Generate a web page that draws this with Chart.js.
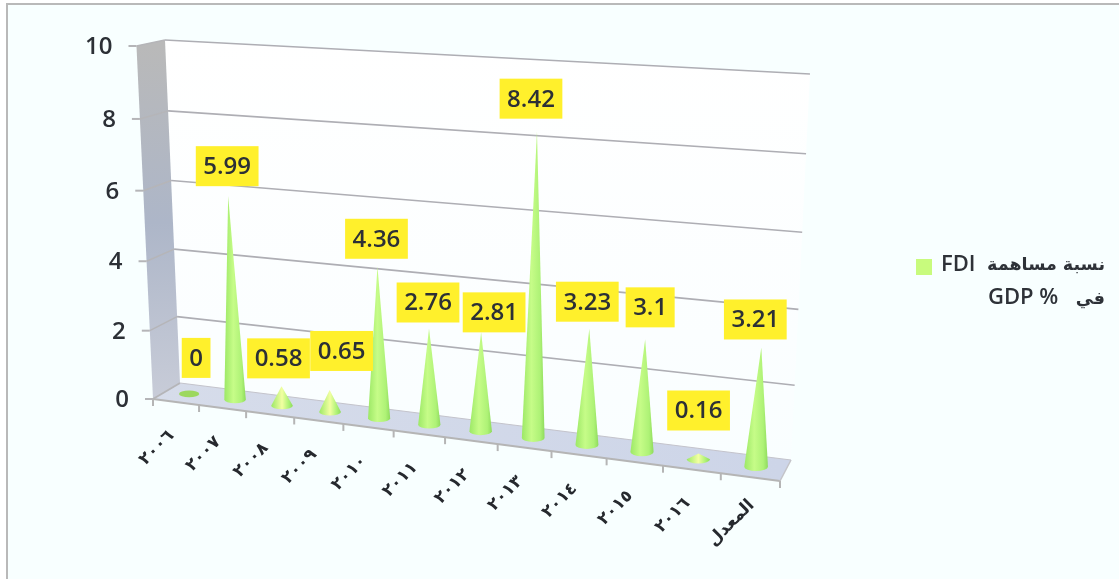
<!DOCTYPE html>
<html><head><meta charset="utf-8">
<style>
html,body{margin:0;padding:0;background:#fff;width:1119px;height:579px;overflow:hidden}
#frame{position:absolute;left:6px;top:3px;width:1113px;height:576px;box-sizing:border-box;background:#f8ffff;border-left:2px solid #b9b9b9;border-top:2px solid #b9b9b9}
#wrap{position:absolute;left:0;top:0;width:1119px;height:579px}
</style>
<script src="https://cdn.jsdelivr.net/npm/chart.js@4"></script>
</head><body>
<div id="frame"></div>
<div id="wrap"><canvas id="c" width="1119" height="579"></canvas></div>
<script>
const categories = ["٢٠٠٦","٢٠٠٧","٢٠٠٨","٢٠٠٩","٢٠١٠","٢٠١١","٢٠١٢","٢٠١٣","٢٠١٤","٢٠١٥","٢٠١٦","المعدل"];
const fdiValues = [0, 5.99, 0.58, 0.65, 4.36, 2.76, 2.81, 8.42, 3.23, 3.1, 0.16, 3.21];
const yTickValues = [0, 2, 4, 6, 8, 10];
const legendArabic = ["نسبة مساهمة", "في"];
const legendLatin = ["FDI", "GDP %"];
const seriesName = "نسبة مساهمة FDI في % GDP";

// Perspective of the 3-D box: floor corners, wall heights and lean
const FL=[153,399], FR=[780,481], BL=[180,383], BR=[791,460];
const lerp=(a,b,t)=>a+(b-a)*t;
const warpX=s=>s*(1-0.128)/(1-0.128*s);
const warpY=v=>(v/(1-0.004*v))*(1-0.04)/10;
function project(s,d,v){
  const t=warpX(s);
  const fx=lerp(FL[0],FR[0],t), fy=lerp(FL[1],FR[1],t);
  const bx=lerp(BL[0],BR[0],t), by=lerp(BL[1],BR[1],t);
  const x=lerp(fx,bx,d), y=lerp(fy,by,d);
  const H=lerp(353+45*t,343+43*t,d);
  const h=warpY(v);
  return [x+(x-450)*0.0556*h, y-H*h];
}
const TIP=0.98;
const LABEL_NUDGE=[[7,-36],[-1,-30],[-3,-28],[12,-39],[-1,-28],[-1,-26],[13,-20],[-6,-33],[-2,-27],[5,-32],[0,-43],[-6,-28]];
const TEXT="#2c3036", FONT="600 24px 'Open Sans','DejaVu Sans',sans-serif";

function poly(ctx,pts,fill){ctx.beginPath();pts.forEach((p,i)=>i?ctx.lineTo(p[0],p[1]):ctx.moveTo(p[0],p[1]));ctx.closePath();ctx.fillStyle=fill;ctx.fill();}
function seg(ctx,a,b,col,w){ctx.beginPath();ctx.moveTo(a[0],a[1]);ctx.lineTo(b[0],b[1]);ctx.strokeStyle=col;ctx.lineWidth=w;ctx.stroke();}

const box3d={
  id:'box3d',
  beforeDraw(chart){
    const {ctx,scales:{x:xs,y:ys}}=chart;
    // move the library's tick labels on to the projected box edges
    xs._computeLabelArea=()=>undefined;
    ys._computeLabelArea=()=>undefined;
    xs._labelItems=xs._computeLabelItems(chart.chartArea).map((it,i)=>{
      const s=(xs.getPixelForTick(i)-xs.left)/xs.width;
      const p=project(s,0,0);
      it.options.translation=[p[0]-19,p[1]+46];
      it.options.textAlign='center';it.options.textBaseline='middle';it.textOffset=0;
      return it;
    });
    ys._labelItems=ys._computeLabelItems(chart.chartArea).map((it,i)=>{
      const p=project(0,0,ys.ticks[i].value);
      it.options.translation=[p[0]-24,p[1]+1];
      it.options.textAlign='right';it.options.textBaseline='middle';it.textOffset=0;
      return it;
    });
    // walls and floor
    const c0=project(0,0,0),c1=project(1,0,0),c2=project(1,1,0),c3=project(0,1,0);
    const t0=project(0,0,10),t3=project(0,1,10),t2=project(1,1,10);
    let g=ctx.createLinearGradient(0,t3[1],0,c2[1]);
    g.addColorStop(0,'#ffffff');g.addColorStop(.7,'#fbfeff');g.addColorStop(1,'#f9feff');
    poly(ctx,[t3,t2,c2,c3],g);
    g=ctx.createLinearGradient(0,t0[1],0,c0[1]);
    g.addColorStop(0,'#b9b9b9');g.addColorStop(.5,'#adb6c8');g.addColorStop(1,'#c8ccd8');
    poly(ctx,[t0,t3,c3,c0],g);
    g=ctx.createLinearGradient(c0[0],0,c1[0],0);
    g.addColorStop(0,'#d6dcea');g.addColorStop(1,'#cdd5e8');
    poly(ctx,[c0,c1,c2,c3],g);
    // grid lines through the y scale's ticks
    ys.ticks.forEach(tk=>{
      const v=tk.value;
      const a=project(0,0,v),b=project(0,1,v),c=project(1,1,v);
      seg(ctx,[a[0]-8,a[1]],a,'#b5b5b8',2);
      seg(ctx,a,b,'#b5b5b8',v===0?2:1.5);
      if(v>0)seg(ctx,b,c,'#aeaeb4',1.6);
    });
    seg(ctx,c0,c1,'#b5b5b5',2);
    seg(ctx,c1,c2,'#c4c4c8',1.5);
    seg(ctx,c3,c2,'#c4c4cc',1.2);
    // x ticks on the front edge
    for(let i=0;i<=categories.length;i++){
      const p=project(i/categories.length,0,0);
      seg(ctx,p,[p[0],p[1]+7],'#b5b5b5',2);
    }
  },
  beforeDatasetDraw(chart,args){
    const {ctx,scales:{x:xs,y:ys}}=chart;
    args.meta.data.forEach(el=>{
      const s=(el.x-xs.left)/xs.width;
      const v=ys.getValueForPixel(el.y);
      const t=warpX(s), base=project(s,.5,0), tip=project(s,.5,v*TIP);
      const rx=10.6+1.3*t, ry=3.3+1*t;
      if(v<0.01){
        ctx.beginPath();ctx.ellipse(base[0],base[1],rx*.95,ry,0,0,Math.PI*2);ctx.fillStyle='#9cd85e';ctx.fill();
        return;
      }
      const g=ctx.createLinearGradient(base[0]-rx,0,base[0]+rx,0);
      const small=v<1;
      g.addColorStop(0,'#9ce866');
      g.addColorStop(small?.5:.42,small?'#f2ffa2':'#c6fc88');
      g.addColorStop(.8,'#aef276');
      g.addColorStop(1,'#8edb5c');
      ctx.beginPath();
      ctx.moveTo(tip[0],tip[1]);
      ctx.lineTo(base[0]+rx,base[1]);
      ctx.ellipse(base[0],base[1],rx,ry,0,0,Math.PI);
      ctx.closePath();
      ctx.fillStyle=g;ctx.fill();
    });
    return false;
  },
  afterDatasetsDraw(chart){
    const {ctx,scales:{x:xs,y:ys}}=chart;
    const meta=chart.getDatasetMeta(0);
    ctx.save();
    ctx.font=FONT;
    ctx.textAlign='center';ctx.textBaseline='middle';
    meta.data.forEach((el,i)=>{
      const val=chart.data.datasets[0].data[i];
      const s=(el.x-xs.left)/xs.width;
      const tip=project(s,.5,val*TIP);
      const cx=tip[0]+LABEL_NUDGE[i][0], cy=tip[1]+LABEL_NUDGE[i][1];
      const w=ctx.measureText(String(val)).width+15;
      ctx.fillStyle='#fff02c';
      ctx.fillRect(cx-w/2,cy-20,w,40);
      ctx.fillStyle=TEXT;
      ctx.fillText(String(val),cx,cy+1);
    });
    ctx.restore();
    // legend
    ctx.save();
    ctx.fillStyle=chart.data.datasets[0].backgroundColor;
    ctx.fillRect(916,259,16,16);
    ctx.fillStyle='#2e3238';
    ctx.textBaseline='middle';
    ctx.direction='rtl';ctx.textAlign='right';
    ctx.font="600 17.5px 'DejaVu Sans'";
    ctx.fillText(legendArabic[0],1105,265);
    ctx.fillText(legendArabic[1],1105,299);
    ctx.direction='ltr';ctx.textAlign='left';
    ctx.font="600 22px 'Open Sans'";
    ctx.fillText(legendLatin[0],941,265);
    ctx.fillText(legendLatin[1],988,298);
    ctx.restore();
  }
};

new Chart(document.getElementById('c'),{
  type:'bar',
  data:{labels:categories,datasets:[{label:seriesName,data:fdiValues,backgroundColor:'#c8fb7d'}]},
  options:{
    responsive:false,animation:false,devicePixelRatio:1,
    layout:{padding:{left:60,right:330,top:40,bottom:20}},
    plugins:{legend:{display:false},tooltip:{enabled:false},title:{display:false}},
    scales:{
      x:{grid:{display:false},border:{display:false},
         ticks:{color:'#26292e',autoSkip:false,minRotation:45,maxRotation:45,font:{family:"'DejaVu Sans'",size:17,weight:'bold'}}},
      y:{min:0,max:10,grid:{display:false},border:{display:false},
         afterBuildTicks(a){a.ticks=yTickValues.map(v=>({value:v}));},
         ticks:{color:TEXT,font:{family:"'Open Sans'",size:24,weight:'600'}}}
    }
  },
  plugins:[box3d]
});
</script>
</body></html>
